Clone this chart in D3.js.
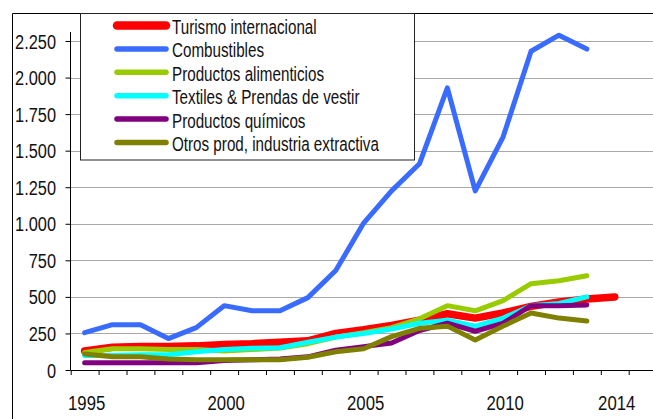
<!DOCTYPE html>
<html><head><meta charset="utf-8">
<script src="https://cdn.jsdelivr.net/npm/d3@7"></script>
<style>body{margin:0;background:#fff}svg{display:block}text{font-family:"Liberation Sans",Arial,sans-serif;fill:#111}</style>
</head><body><svg id="c" width="653" height="419"></svg>
<script>
const years = d3.range(1995, 2015);
const turismo      = [130,155,160,160,165,175,180,190,200,250,275,305,340,385,355,390,435,465,485,500];
const combustibles = [255,310,310,215,290,440,405,405,495,680,1005,1225,1410,1930,1225,1595,2180,2290,2195,null];
const alimenticios = [120,145,145,140,140,130,140,150,180,225,255,290,350,440,405,475,590,610,645,null];
const textiles     = [100,100,105,105,125,140,148,152,190,225,250,280,320,340,300,355,440,455,500,null];
const quimicos     = [50,50,50,50,50,65,70,75,90,135,160,185,270,320,265,320,440,440,445,null];
const otros        = [110,90,90,75,70,70,70,70,87,125,145,228,285,300,205,300,390,355,335,null];
const seriesNames  = ["Turismo internacional","Combustibles","Productos alimenticios","Textiles & Prendas de vestir","Productos químicos","Otros prod, industria extractiva"];
const seriesValues = [turismo, combustibles, alimenticios, textiles, quimicos, otros];
const seriesColors = ["#ff0000","#3a6bff","#99cc00","#00ffff","#800080","#808000"];
const seriesWidths = [7.5,5,5,5,5,5];
const yTicks = [0,250,500,750,1000,1250,1500,1750,2000,2250];
const xLabels = [1995,2000,2005,2010,2014];

const svg = d3.select("#c");
const pLeft = 70.5, pRight = 653, pTop = 41, pBottom = 370;
const x = d3.scaleLinear().domain([1994.5, 2014.5]).range([70.7, 628.7]);
const y = d3.scaleLinear().domain([0, 2250]).range([pBottom, pTop]);
const loc = d3.formatLocale({decimal:",", thousands:".", grouping:[3], currency:["",""]});
const fmt = loc.format(",");

// frame
svg.append("line").attr("x1",12.5).attr("x2",653).attr("y1",13.5).attr("y2",13.5).attr("stroke","#000");
svg.append("line").attr("x1",12.5).attr("x2",12.5).attr("y1",13.5).attr("y2",419).attr("stroke","#000");

// gridlines
svg.append("g").selectAll("line").data(yTicks.filter(d=>d>0)).join("line")
  .attr("x1",pLeft).attr("x2",pRight).attr("y1",d=>Math.round(y(d))+0.5).attr("y2",d=>Math.round(y(d))+0.5)
  .attr("stroke","#a8a8a8").attr("stroke-width",1);

// y axis
const ya = svg.append("g").attr("transform",`translate(${pLeft},0)`)
  .call(d3.axisLeft(y).tickValues(yTicks).tickSize(5).tickPadding(0).tickFormat(fmt));
ya.select(".domain").remove();
ya.selectAll(".tick line").attr("stroke","#000");
ya.selectAll(".tick text").attr("x",0).attr("dy",0)
  .attr("transform","translate(-14.5,7) scale(0.84,1)")
  .style("font-size","19.5px").attr("text-anchor","end").attr("fill","#111");
svg.append("line").attr("x1",pLeft).attr("x2",pLeft).attr("y1",32).attr("y2",pBottom).attr("stroke","#000");

// x axis
const xa = svg.append("g").attr("transform",`translate(0,${pBottom})`)
  .call(d3.axisBottom(x).tickValues(d3.range(1994.5, 2015, 1)).tickSize(5).tickFormat(""));
xa.select(".domain").remove();
xa.selectAll(".tick line").attr("stroke","#000");
svg.append("line").attr("x1",pLeft).attr("x2",pRight).attr("y1",pBottom+0.5).attr("y2",pBottom+0.5).attr("stroke","#000");
const xl = svg.append("g").attr("transform",`translate(0,${pBottom})`)
  .call(d3.axisBottom(x).tickValues(xLabels).tickSize(0).tickFormat(d3.format("d")));
xl.select(".domain").remove();
xl.selectAll(".tick text").attr("y",0).attr("dy",0)
  .attr("transform","translate(1.5,40) scale(0.86,1)")
  .style("font-size","19.5px").attr("fill","#111");

// lines
const line = d3.line().defined(d=>d.v!=null).x(d=>x(d.t)).y(d=>y(d.v));
seriesValues.forEach((vals,i)=>{
  svg.append("path").datum(years.map((t,j)=>({t, v: vals[j]})))
    .attr("d",line).attr("fill","none").attr("stroke",seriesColors[i])
    .attr("stroke-width",seriesWidths[i]).attr("stroke-linejoin","round").attr("stroke-linecap","round");
});

// legend
const lg = svg.append("g");
lg.append("rect").attr("x",80.5).attr("y",13.5).attr("width",334).attr("height",146.5)
  .attr("fill","#fff").attr("stroke","#222").attr("stroke-width",1);
const rows = lg.selectAll("g.row").data(seriesNames).join("g").attr("class","row")
  .attr("transform",(d,i)=>`translate(0,${34 + i*23.4})`);
rows.append("line").attr("x1",117).attr("x2",166).attr("y1",-8.5).attr("y2",-8.5)
  .attr("stroke",(d,i)=>seriesColors[i]).attr("stroke-width",(d,i)=>i===0?8.5:5.5).attr("stroke-linecap","round");
rows.append("text").attr("transform","translate(172,0) scale(0.78,1)")
  .style("font-size","19.5px").text(d=>d);
</script></body></html>
